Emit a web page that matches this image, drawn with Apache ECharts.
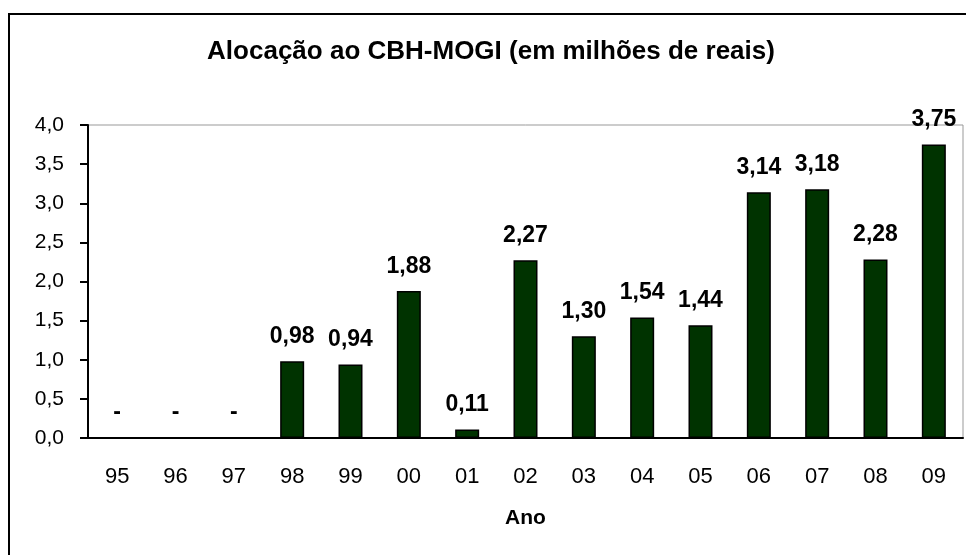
<!DOCTYPE html>
<html>
<head>
<meta charset="utf-8">
<script src="https://cdn.jsdelivr.net/npm/echarts@6/dist/echarts.min.js"></script>
<style>
  html, body { margin: 0; padding: 0; background: #fff; }
  #chart { width: 966px; height: 555px; }
</style>
</head>
<body>
<div id="chart"></div>
<script>
var anos = ['95', '96', '97', '98', '99', '00', '01', '02', '03', '04', '05', '06', '07', '08', '09'];
var alocacao = [0, 0, 0, 0.98, 0.94, 1.88, 0.11, 2.27, 1.30, 1.54, 1.44, 3.14, 3.18, 2.28, 3.75];
var yTicks = [0, 0.5, 1, 1.5, 2, 2.5, 3, 3.5, 4];

var fmt = function (v, d) {
    return v.toFixed(d).replace('.', ',');
};

var chart = echarts.init(document.getElementById('chart'));
chart.setOption({
    animation: false,
    textStyle: { fontFamily: 'Liberation Sans, Arial, sans-serif' },
    title: {
        text: 'Alocação ao CBH-MOGI (em milhões de reais)',
        left: 486,
        top: 34,
        textAlign: 'center',
        textStyle: { fontSize: 26, fontWeight: 'bold', color: '#000' }
    },
    graphic: [{
        type: 'rect',
        shape: { x: 9, y: 14, width: 1000, height: 600 },
        style: { fill: 'none', stroke: '#000', lineWidth: 2 },
        silent: true
    }],
    grid: {
        left: 88, top: 125, right: 3, bottom: 117,
        show: true, borderColor: '#999', borderWidth: 1
    },
    xAxis: {
        type: 'category',
        data: anos,
        name: 'Ano',
        nameLocation: 'middle',
        nameGap: 70,
        nameTextStyle: { fontSize: 21, fontWeight: 'bold', color: '#000' },
        axisLine: { lineStyle: { color: '#000', width: 2 } },
        axisTick: { length: 8, lineStyle: { color: '#000', width: 2 } },
        axisLabel: { fontSize: 22, color: '#000', margin: 28 }
    },
    yAxis: {
        type: 'value',
        min: yTicks[0],
        max: yTicks[yTicks.length - 1],
        interval: 0.5,
        axisLine: { show: true, lineStyle: { color: '#000', width: 2 } },
        axisTick: { show: true, length: 8, lineStyle: { color: '#000', width: 2 } },
        splitLine: { show: false },
        axisLabel: {
            fontSize: 21, color: '#000', margin: 24,
            formatter: function (v) { return fmt(v, 1); }
        }
    },
    series: [{
        type: 'bar',
        data: alocacao,
        barWidth: 24,
        itemStyle: { color: '#003300', borderColor: '#000', borderWidth: 1.5 },
        label: {
            show: true,
            position: 'top',
            distance: 13,
            fontSize: 23,
            fontWeight: 'bold',
            color: '#000',
            formatter: function (p) { return p.value === 0 ? '-' : fmt(p.value, 2); }
        }
    }]
});
</script>
</body>
</html>
